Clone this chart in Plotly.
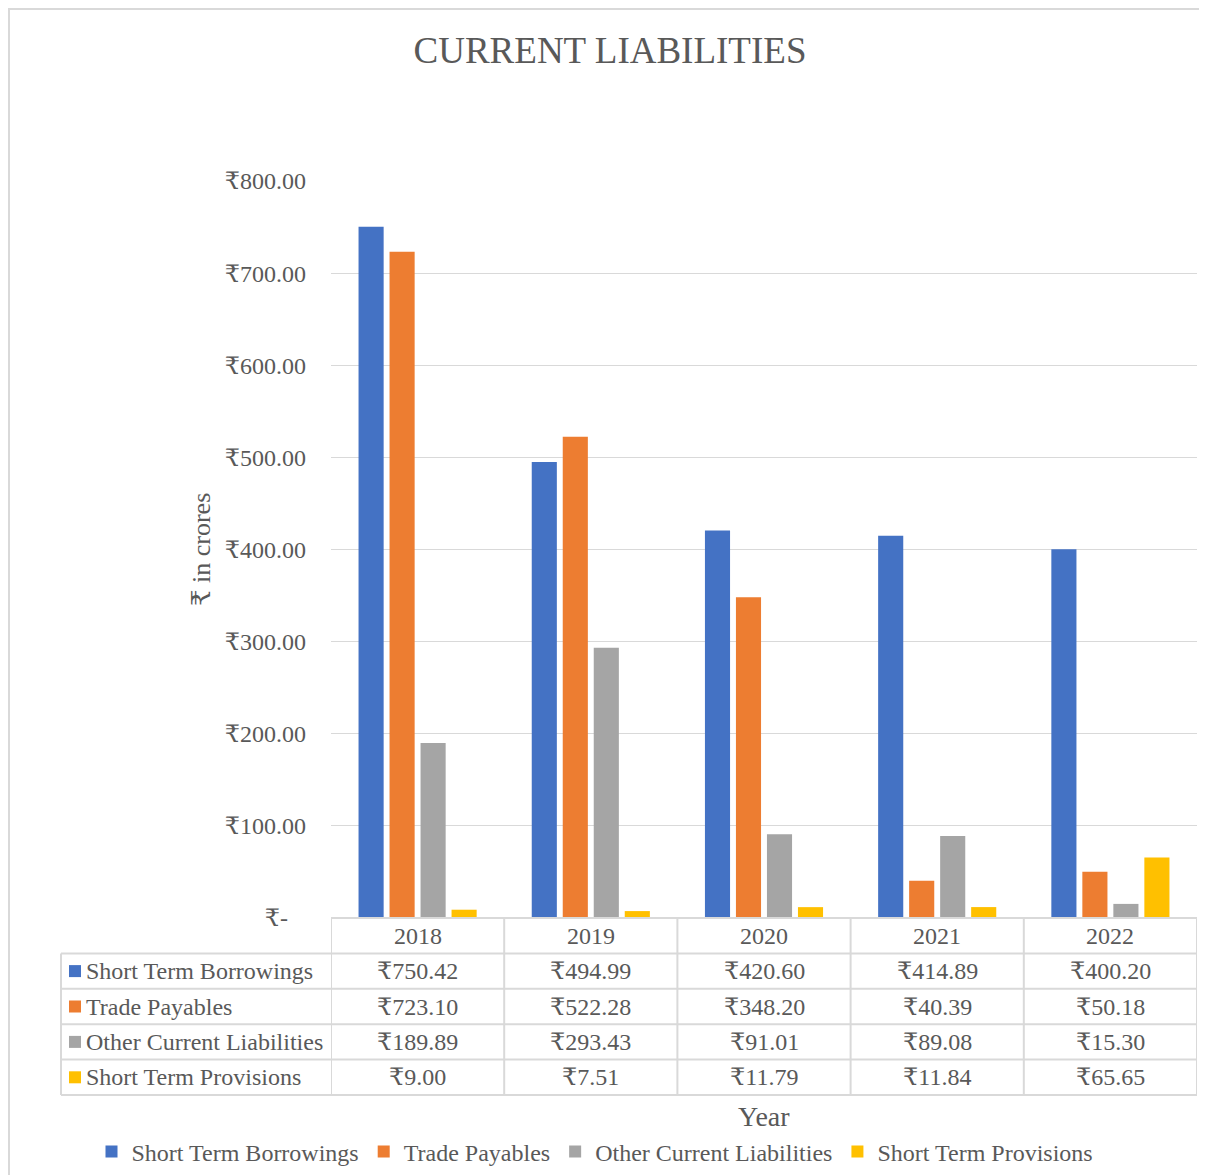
import plotly.graph_objects as go

years = ["2018", "2019", "2020", "2021", "2022"]
series_names = ["Short Term Borrowings", "Trade Payables", "Other Current Liabilities", "Short Term Provisions"]
short_term_borrowings = [750.42, 494.99, 420.60, 414.89, 400.20]
trade_payables = [723.10, 522.28, 348.20, 40.39, 50.18]
other_current_liabilities = [189.89, 293.43, 91.01, 89.08, 15.30]
short_term_provisions = [9.00, 7.51, 11.79, 11.84, 65.65]
colors = ["#4472C4", "#ED7D31", "#A5A5A5", "#FFC000"]
y_tick_vals = [0, 100, 200, 300, 400, 500, 600, 700, 800]
y_tick_text = ["₹-\u00a0\u00a0\u00a0", "₹100.00", "₹200.00", "₹300.00", "₹400.00",
               "₹500.00", "₹600.00", "₹700.00", "₹800.00"]

series_values = [short_term_borrowings, trade_payables, other_current_liabilities, short_term_provisions]

# page body has an 8px margin; size the figure to fill the rest of the window
OFF = 8
W, H = 1207 - OFF, 1175 - OFF
FONT = "Liberation Serif, DejaVu Serif, Times New Roman, serif"
TXT = "#595959"
GRID = "#D9D9D9"
FS = 24


def px(x):
    return (x - OFF) / W


def py(y):
    return 1 - (y - OFF) / H


fig = go.Figure()
for name, vals, col in zip(series_names, series_values, colors):
    fig.add_trace(go.Bar(x=years, y=vals, name=name, marker=dict(color=col, line=dict(width=0))))

shapes = []
annotations = []

# chart outer border
shapes.append(dict(type="rect", xref="paper", yref="paper", x0=px(9), x1=px(1230), y0=py(9), y1=py(1200),
                   line=dict(color="#D9D9D9", width=2), fillcolor="rgba(0,0,0,0)", layer="below"))

# data table geometry
row_edges = [918, 953.4, 988.8, 1024.2, 1059.6, 1095]
n = len(years)
shapes.append(dict(type="line", xref="x", yref="paper", x0=-0.5, x1=n - 0.5, y0=py(row_edges[0]), y1=py(row_edges[0]),
                   line=dict(color=GRID, width=2)))
for r in row_edges[1:]:
    shapes.append(dict(type="line", xref="paper", yref="paper", x0=px(61), x1=px(1197), y0=py(r), y1=py(r),
                       line=dict(color=GRID, width=2)))
for i in range(n + 1):
    shapes.append(dict(type="line", xref="x", yref="paper", x0=i - 0.5, x1=i - 0.5, y0=py(row_edges[0]), y1=py(row_edges[-1]),
                       line=dict(color=GRID, width=2)))
shapes.append(dict(type="line", xref="paper", yref="paper", x0=px(61), x1=px(61), y0=py(row_edges[1]), y1=py(row_edges[-1]),
                   line=dict(color=GRID, width=2)))

# year header
for i, yr in enumerate(years):
    annotations.append(dict(x=i, xref="x", y=py((row_edges[0] + row_edges[1]) / 2), yref="paper", text=yr,
                            showarrow=False, font=dict(family=FONT, size=FS, color=TXT), xanchor="center", yanchor="middle"))

# rows
for k, (name, vals, col) in enumerate(zip(series_names, series_values, colors)):
    yc = (row_edges[k + 1] + row_edges[k + 2]) / 2
    shapes.append(dict(type="rect", xref="paper", yref="paper", x0=px(69), x1=px(81), y0=py(yc - 6), y1=py(yc + 6),
                       fillcolor=col, line=dict(width=0)))
    annotations.append(dict(x=px(84), xref="paper", y=py(yc), yref="paper", text=name, showarrow=False,
                            font=dict(family=FONT, size=FS, color=TXT), xanchor="left", yanchor="middle"))
    for i, v in enumerate(vals):
        annotations.append(dict(x=i, xref="x", y=py(yc), yref="paper", text=f"₹{v:,.2f}", showarrow=False,
                                font=dict(family=FONT, size=FS, color=TXT), xanchor="center", yanchor="middle"))

# axis titles
annotations.append(dict(x=px(201), xref="paper", y=py(550), yref="paper", text="₹ in crores", textangle=-90,
                        showarrow=False, font=dict(family=FONT, size=26, color=TXT), xanchor="center", yanchor="middle"))
annotations.append(dict(x=px(764), xref="paper", y=py(1116), yref="paper", text="Year",
                        showarrow=False, font=dict(family=FONT, size=28, color=TXT), xanchor="center", yanchor="middle"))

fig.update_layout(
    width=W, height=H,
    margin=dict(l=0, r=0, t=0, b=0),
    paper_bgcolor="white", plot_bgcolor="white",
    title=dict(text="CURRENT LIABILITIES", x=px(610), y=py(50), xanchor="center", yanchor="middle",
               font=dict(family=FONT, size=37, color=TXT)),
    barmode="group", bargap=0.284, bargroupgap=0.19,
    font=dict(family=FONT, size=FS, color=TXT),
    xaxis=dict(type="category", domain=[px(331), px(1197)], showticklabels=False, ticks="", showgrid=False,
               zeroline=False, showline=False, automargin=False, range=[-0.5, n - 0.5]),
    yaxis=dict(domain=[py(918), py(181)], range=[0, 800], tickvals=y_tick_vals, ticktext=y_tick_text,
               showgrid=True, gridcolor=GRID, gridwidth=1, zeroline=False, showline=False, ticks="",
               ticklabelstandoff=24, tickfont=dict(family=FONT, size=FS, color=TXT), automargin=False),
    legend=dict(orientation="h", x=px(595), y=py(1152), xanchor="center", yanchor="middle",
                font=dict(family=FONT, size=FS, color=TXT), itemwidth=30, tracegroupgap=0,
                bgcolor="rgba(0,0,0,0)"),
    shapes=shapes, annotations=annotations,
)

fig.write_html("out.html")
